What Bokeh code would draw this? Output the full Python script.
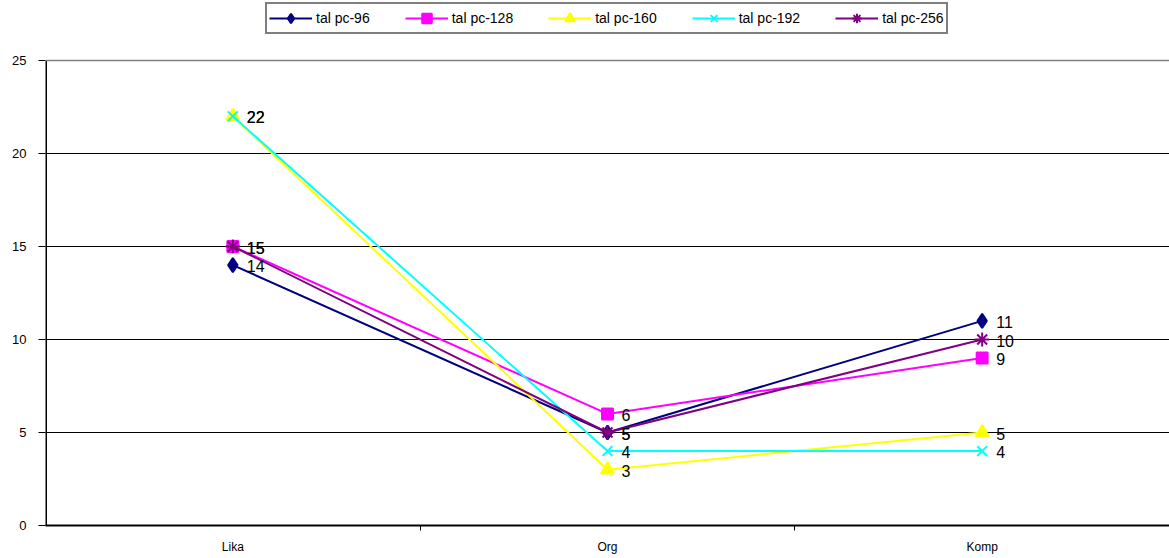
from bokeh.plotting import figure
from bokeh.models import (ColumnDataSource, FixedTicker, Legend, LegendItem, Span, Range1d)
from bokeh.core.properties import value
from bokeh.embed import file_html
from bokeh.resources import INLINE

categories = ["Lika", "Org", "Komp"]
series_names = ["tal pc-96", "tal pc-128", "tal pc-160", "tal pc-192", "tal pc-256"]
pc96 = [14, 5, 11]
pc128 = [15, 6, 9]
pc160 = [22, 3, 5]
pc192 = [22, 4, 4]
pc256 = [15, 5, 10]
y_ticks = [0, 5, 10, 15, 20, 25]
y_max = 25

values = [pc96, pc128, pc160, pc192, pc256]
colors = ["#000080", "#FF00FF", "#FFFF00", "#00FFFF", "#800080"]
markers = ["diamond", "square", "triangle", "x", "asterisk"]
marker_sizes = [14, 11, 13, 14, 14]

xs = [i + 0.5 for i in range(len(categories))]
FONT = "Liberation Sans"

# frame runs to the top of the page so the legend can sit above the 25 line
frame_h = 525
px_per_unit = 465 / y_max
p = figure(width=1169, height=558, output_backend="svg", toolbar_location=None,
           x_range=Range1d(0, 3), y_range=Range1d(0, frame_h / px_per_unit),
           min_border_left=45, min_border_right=0, min_border_top=0,
           min_border_bottom=33)
p.outline_line_color = None
p.background_fill_color = "white"

# x axis: category names at centres, tick marks at category boundaries
p.xaxis.ticker = FixedTicker(ticks=xs, minor_ticks=[1, 2])
p.xaxis.major_label_overrides = {x: c for x, c in zip(xs, categories)}
p.xaxis.major_tick_out = 0
p.xaxis.major_tick_in = 0
p.xaxis.minor_tick_out = 5
p.xaxis.minor_tick_in = 0
p.xaxis.minor_tick_line_color = "black"
p.xaxis.axis_line_color = "black"
p.xaxis.axis_line_width = 2
p.xaxis.major_label_text_font = FONT
p.xaxis.major_label_text_font_size = "12px"
p.xaxis.major_label_text_color = "black"
p.xaxis.major_label_standoff = 9

p.yaxis.ticker = FixedTicker(ticks=y_ticks)
p.yaxis.minor_tick_line_color = None
p.yaxis.major_tick_out = 7
p.yaxis.major_tick_in = 0
p.yaxis.major_tick_line_color = "black"
p.yaxis.axis_line_color = None
p.yaxis.major_label_text_font = FONT
p.yaxis.major_label_text_font_size = "13px"
p.yaxis.major_label_text_color = "black"
p.yaxis.major_label_standoff = 12

# value axis line only spans 0..25
p.segment(x0=[0], y0=[0], x1=[0], y1=[y_max], line_color="black", line_width=3)

p.xgrid.visible = False
p.ygrid.ticker = FixedTicker(ticks=[5, 10, 15, 20])
p.ygrid.grid_line_color = "black"
p.ygrid.grid_line_width = 1
p.add_layout(Span(location=y_max, dimension="width", line_color="#808080", line_width=1.5))

items = []
for name, vals, col, mk, ms in zip(series_names, values, colors, markers, marker_sizes):
    src = ColumnDataSource(dict(x=xs, y=vals))
    ln = p.line("x", "y", source=src, line_color=col, line_width=2)
    sc = p.scatter("x", "y", source=src, marker=mk, size=ms, fill_color=col,
                   line_color=col, line_width=2)
    items.append(LegendItem(label=name, renderers=[ln, sc]))

for name, vals in zip(series_names, values):
    src = ColumnDataSource(dict(x=xs, y=vals, lbl=[str(v) for v in vals]))
    p.text("x", "y", text="lbl", source=src, x_offset=14, y_offset=1,
           text_font=value(FONT), text_font_size="16px", text_color="black",
           text_baseline="middle", text_align="left")

legend = Legend(items=items, orientation="horizontal", location=(220, frame_h - 34),
                border_line_color="black", border_line_width=2,
                label_text_font=FONT, label_text_font_size="14px",
                label_text_font_style="normal",
                label_text_color="black", glyph_width=43, glyph_height=24,
                spacing=35, padding=2, margin=0, label_standoff=4,
                label_height=16, background_fill_color="white",
                background_fill_alpha=1)
p.add_layout(legend, "center")

open("out.html", "w").write(file_html(p, INLINE))
